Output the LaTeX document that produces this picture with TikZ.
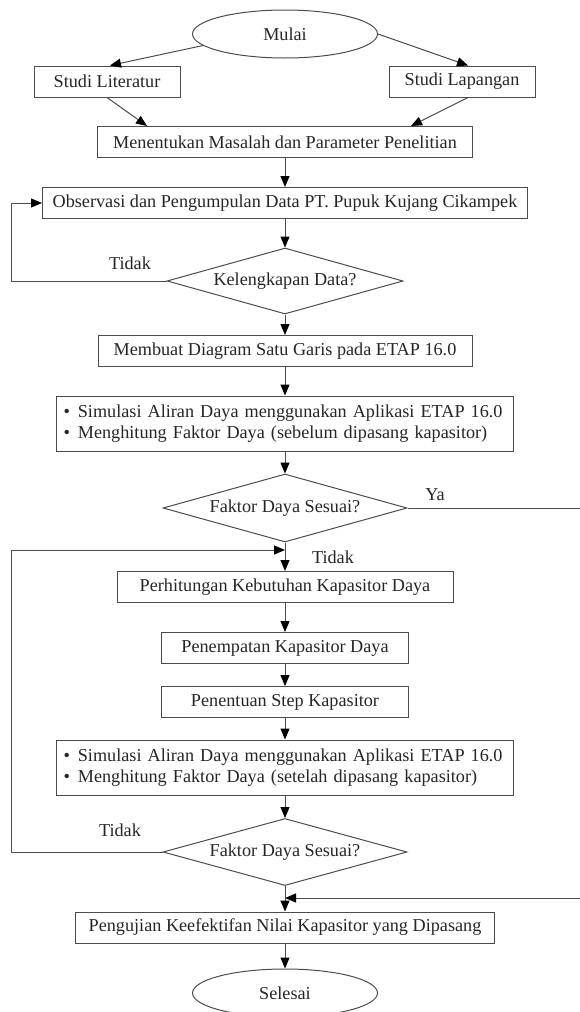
\documentclass[tikz,border=0pt]{standalone}
\usepackage{fontspec}
\setmainfont{Liberation Serif}
\usetikzlibrary{shapes.geometric,arrows.meta,calc}
\begin{document}
\begin{tikzpicture}[x=1pt, y=-1pt, >={Triangle[length=11pt,width=9pt,color=black]},
  every node/.style={font=\fontsize{18.2}{20.5}\selectfont, text=black!85},
  kotak/.style={draw=black!70, line width=1pt, minimum height=31pt, inner sep=0pt},
  oval/.style={draw=black!70, line width=1pt, ellipse, minimum width=185pt, minimum height=48pt, inner sep=0pt},
  belah/.style={draw=black!70, line width=1pt, diamond, aspect=3.6, minimum width=244pt, minimum height=68pt, inner sep=0pt},
  garis/.style={draw=black!70, line width=1pt}]
\useasboundingbox (0,0) rectangle (580,1012);
% mulai
\node[oval] (mulai) at (285,34) {Mulai};
\node[kotak, minimum width=146pt] (lit) at (107,81.5) {Studi Literatur};
\node[kotak, minimum width=146pt] (lap) at (462,81.5) {Studi Lapangan};
\node[kotak, minimum width=375pt] (masalah) at (285,142) {Menentukan Masalah dan Parameter Penelitian};
\node[kotak, minimum width=485pt] (observasi) at (285,203) {Observasi dan Pengumpulan Data PT. Pupuk Kujang Cikampek};
\node[belah, minimum width=236pt, minimum height=66pt] (lengkap) at (285,281) {Kelengkapan Data?};
\node (tidak1) at (130,263) {Tidak};
% simulasi sebelum kapasitor
\node[kotak, minimum width=457pt, minimum height=55pt, text width=443pt, align=left] (simulasi1) at (285,423.5)
  {\textbullet\hspace{8pt}Simulasi Aliran Daya menggunakan Aplikasi ETAP 16.0\\
   \textbullet\hspace{8pt}Menghitung Faktor Daya (sebelum dipasang kapasitor)};
\node[kotak, minimum width=374pt] (diagram) at (285,351) {Membuat Diagram Satu Garis pada ETAP 16.0};
\node[belah] (sesuai1) at (285,508) {Faktor Daya Sesuai?};
\node (ya) at (435,495) {Ya};
\node (tidak2) at (333,557) {Tidak};
% kapasitor
\node[kotak, minimum width=336pt] (hitung) at (285,587) {Perhitungan Kebutuhan Kapasitor Daya};
\node[kotak, minimum width=247pt] (tempat) at (285,648) {Penempatan Kapasitor Daya};
\node[kotak, minimum width=247pt] (tahap) at (285,702) {Penentuan Step Kapasitor};
\node[kotak, minimum width=457pt, minimum height=55pt, text width=443pt, align=left] (simulasi2) at (285,767.5)
  {\textbullet\hspace{8pt}Simulasi Aliran Daya menggunakan Aplikasi ETAP 16.0\\
   \textbullet\hspace{8pt}Menghitung Faktor Daya (setelah dipasang kapasitor)};
\node[belah, minimum height=67pt] (sesuai2) at (285,852) {Faktor Daya Sesuai?};
\node (tidak3) at (120,830) {Tidak};
% selesai
\node[kotak, minimum width=419pt] (uji) at (285,927.5) {Pengujian Keefektifan Nilai Kapasitor yang Dipasang};
\node[oval] (selesai) at (285,993) {Selesai};
\coordinate (kiri) at (11,0);
\coordinate (kanan) at (583,0);
\coordinate (balik) at (285,550);
\coordinate (gabung) at (285,898);
% panah
\draw[garis,->] (mulai.188) -- ($(lit.north)+(3,0)$);
\draw[garis,->] (mulai.east) -- ($(lap.north)+(6,0)$);
\draw[garis,->] (lit.south) -- ($(masalah.north west)+(50,0)$);
\draw[garis,->] ($(lap.south)+(6,0)$) -- ($(masalah.north east)+(-62,0)$);
\draw[garis,->] (masalah) -- (observasi);
\draw[garis,->] (observasi) -- (lengkap);
\draw[garis,->] (lengkap.west) -- (lengkap.west -| kiri) |- (observasi.west);
\draw[garis,->] (lengkap) -- (diagram);
\draw[garis,->] (diagram) -- (simulasi1);
\draw[garis,->] (simulasi1) -- (sesuai1);
\draw[garis,->] (sesuai1) -- (hitung);
\draw[garis,->] (sesuai1.east) -- (sesuai1.east -| kanan) |- (gabung);
\draw[garis,->] (hitung) -- (tempat);
\draw[garis,->] (tempat) -- (tahap);
\draw[garis,->] (tahap) -- (simulasi2);
\draw[garis,->] (simulasi2) -- (sesuai2);
\draw[garis,->] (sesuai2.west) -- (sesuai2.west -| kiri) |- (balik);
\draw[garis,->] (sesuai2) -- (uji);
\draw[garis,->] (uji) -- (selesai);
\end{tikzpicture}
\end{document}
